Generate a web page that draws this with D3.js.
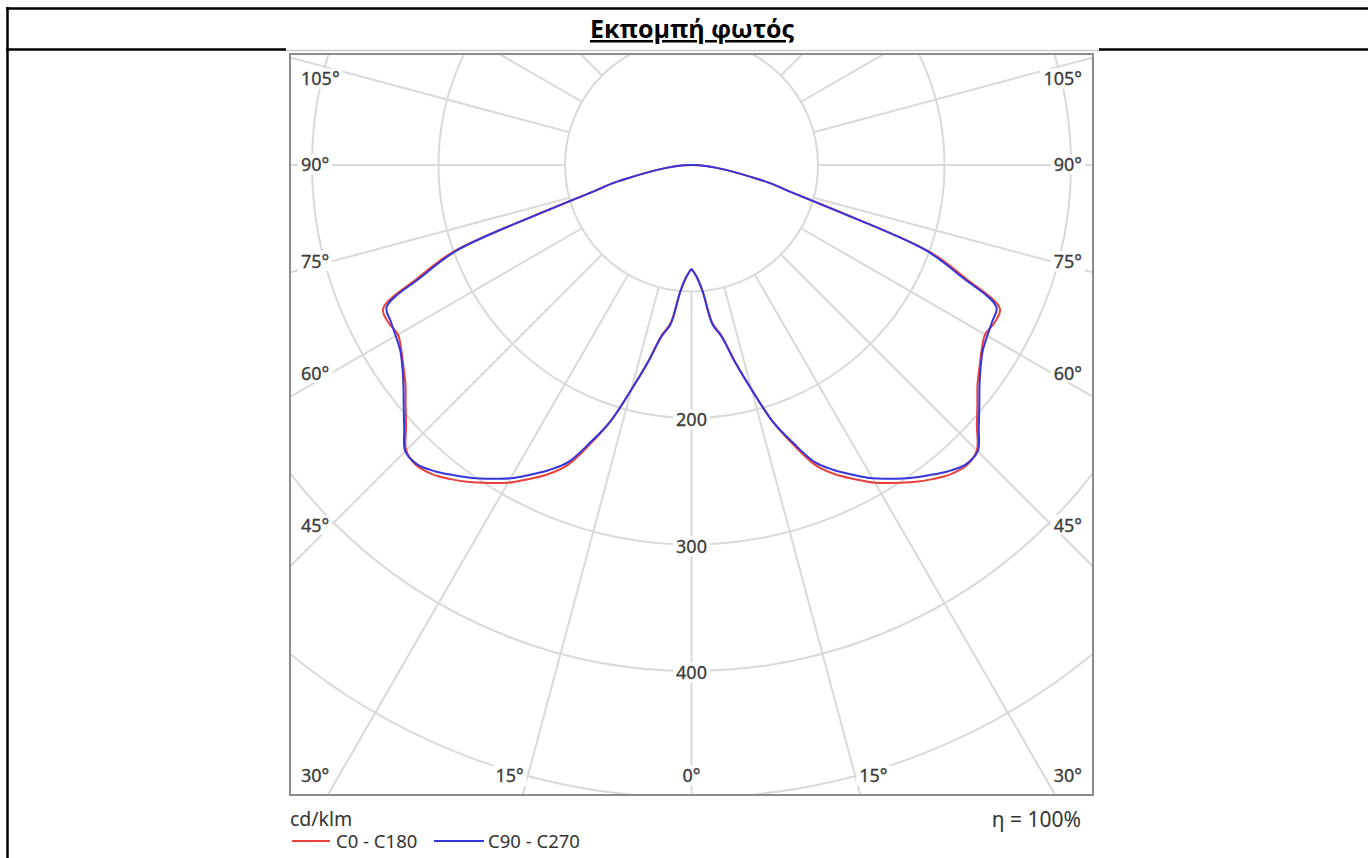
<!DOCTYPE html>
<html><head><meta charset="utf-8">
<script src="https://cdn.jsdelivr.net/npm/d3@7"></script>
<style>
html,body{margin:0;padding:0;background:#fff;}
svg{display:block;}
</style></head><body>
<script>
// ---------- data ----------
const titleText = "Εκπομπή φωτός";
const unitText = "cd/klm";
const efficiencyText = "η = 100%";
const seriesNames = ["C0 - C180", "C90 - C270"];
const seriesColors = ["#e8413c", "#3535de"];
const gammaDeg = [0,2.5,5,7.5,10,12.5,15,17.5,20,22.5,25,27.5,30,32.5,35,37.5,40,42.5,45,47.5,50,52.5,55,57.5,60,62.5,65,67.5,70,72.5,75,77.5,80];
const c0c180  = [82,88,100,126,137,160,184,212,235,257,270,280,290,298,306,313,319,322,319,306,295,285,278,272,268,270,269,235,200,121,79,59,0];
const c90c270 = [82,88,100,127,138,160,184,212,233,254,266,276,286,294,302,309,316,321,320,308,297,287,279,273,270,268,266,231,197,120,79,59,0];
const ringValues = [100,200,300,400,500,600];
const ringLabelValues = [200,300,400];
const radialAngles = [15,30,45,60,75,90,105,120,135,150,165,180];
const sideLabelAngles = [105,90,75,60,45,30];
const bottomLabelAngles = [15,0];

// ---------- layout ----------
const W = 1368, H = 858;
const frame = {x0: 290, y0: 54, x1: 1093, y1: 795};
const cx = 691.5, cy = 165;
const r = d3.scaleLinear().domain([0, 100]).range([0, 126.5]);
const labelFont = "'Noto Sans', 'DejaVu Sans', sans-serif";

const svg = d3.select("body").append("svg").attr("width", W).attr("height", H);

// outer table borders
svg.append("line").attr("x1", 6).attr("x2", W).attr("y1", 8.5).attr("y2", 8.5).attr("stroke", "#000").attr("stroke-width", 2.5);
svg.append("line").attr("x1", 7.5).attr("x2", 7.5).attr("y1", 7).attr("y2", H).attr("stroke", "#000").attr("stroke-width", 2.5);
svg.append("line").attr("x1", 6).attr("x2", 286).attr("y1", 49.5).attr("y2", 49.5).attr("stroke", "#000").attr("stroke-width", 2.5);
svg.append("line").attr("x1", 1099).attr("x2", W).attr("y1", 49.5).attr("y2", 49.5).attr("stroke", "#000").attr("stroke-width", 2.5);
// picture edge
svg.append("line").attr("x1", 286).attr("x2", 1099).attr("y1", 50.5).attr("y2", 50.5).attr("stroke", "#c9c9c9").attr("stroke-width", 1.5);

// title
svg.append("text").attr("x", 692).attr("y", 38)
  .attr("text-anchor", "middle").attr("font-family", "'Open Sans', 'Noto Sans', sans-serif")
  .attr("font-weight", "bold").attr("font-size", 25).attr("text-decoration", "underline")
  .attr("fill", "#000").text(titleText);

// clip
svg.append("clipPath").attr("id", "clipF").append("rect")
  .attr("x", frame.x0).attr("y", frame.y0).attr("width", frame.x1 - frame.x0).attr("height", frame.y1 - frame.y0);

const grid = svg.append("g").attr("clip-path", "url(#clipF)")
  .append("g").attr("transform", `translate(${cx},${cy})`);
grid.selectAll("circle.ring").data(ringValues).join("circle").attr("class", "ring")
  .attr("r", d => r(d)).attr("fill", "none").attr("stroke", "#d9d9d9").attr("stroke-width", 2);

const rad = d => d * Math.PI / 180;
const radials = [];
radialAngles.forEach(a => { radials.push(a); radials.push(-a); });
radials.push(0);
grid.selectAll("line.rad").data(radials).join("line").attr("class", "rad")
  .attr("x1", d => r(100) * Math.sin(rad(d))).attr("y1", d => r(100) * Math.cos(rad(d)))
  .attr("x2", d => r(700) * Math.sin(rad(d))).attr("y2", d => r(700) * Math.cos(rad(d)))
  .attr("stroke", "#d9d9d9").attr("stroke-width", 2);

// labels with white background
const labels = svg.append("g");
function addLabel(x, y, txt, anchor) {
  const g = labels.append("g");
  const t = g.append("text").attr("x", x).attr("y", y).attr("dy", "0.36em")
    .attr("text-anchor", anchor).attr("font-family", labelFont).attr("font-size", 18)
    .attr("fill", "#3a3a3a").attr("stroke", "#3a3a3a").attr("stroke-width", 0.3).text(txt);
  const b = t.node().getBBox();
  g.insert("rect", "text").attr("x", b.x - 3).attr("y", b.y + 2).attr("width", b.width + 6).attr("height", b.height - 4).attr("fill", "#fff");
}
ringLabelValues.forEach(v => addLabel(cx, cy + r(v) + 2, String(v), "middle"));

const colLeft = frame.x0 + 11, colRight = frame.x1 - 11;
const refDx = cx - (frame.x0 + 41);
const yMin = frame.y0 + 25, yMax = frame.y1 - 19;
sideLabelAngles.forEach(a => {
  let y = cy + refDx * Math.cos(rad(a)) / Math.sin(rad(a));
  y = Math.max(yMin, Math.min(yMax, y));
  addLabel(colLeft, y, a + "°", "start");
  addLabel(colRight, y, a + "°", "end");
});
bottomLabelAngles.forEach(a => {
  const dx = (yMax - cy) * Math.tan(rad(a));
  if (a === 0) { addLabel(cx, yMax, "0°", "middle"); return; }
  addLabel(cx - dx - 4, yMax, a + "°", "end");
  addLabel(cx + dx + 4, yMax, a + "°", "start");
});

// curves
function pts(values) {
  const right = gammaDeg.map((g, i) => ({a: Math.PI - rad(g), v: values[i]}));
  const left = gammaDeg.slice(0, -1).map((g, i) => ({a: Math.PI + rad(g), v: values[i]})).reverse();
  return right.concat(left);
}
const line = d3.lineRadial().angle(d => d.a).radius(d => r(d.v)).curve(d3.curveCatmullRom.alpha(0.5));
const curves = svg.append("g").attr("clip-path", "url(#clipF)")
  .append("g").attr("transform", `translate(${cx},${cy})`);
[c0c180, c90c270].forEach((vals, i) => {
  curves.append("path").attr("d", line(pts(vals))).attr("fill", "none")
    .attr("stroke", seriesColors[i]).attr("stroke-width", 2).attr("stroke-linejoin", "round");
});

// frame
svg.append("rect").attr("x", frame.x0).attr("y", frame.y0).attr("width", frame.x1 - frame.x0).attr("height", frame.y1 - frame.y0)
  .attr("fill", "none").attr("stroke", "#8c8c8c").attr("stroke-width", 2);

// footer
svg.append("text").attr("x", frame.x0).attr("y", 826).attr("font-family", labelFont).attr("font-size", 19.5)
  .attr("fill", "#333").text(unitText);
svg.append("text").attr("x", frame.x1 - 12).attr("y", 827).attr("text-anchor", "end").attr("font-family", labelFont).attr("font-size", 21)
  .attr("fill", "#333").text(efficiencyText);
const legY = 841;
const legX = [292, 434];
seriesNames.forEach((n, i) => {
  svg.append("line").attr("x1", legX[i]).attr("x2", legX[i] + (i === 0 ? 38 : 50)).attr("y1", legY).attr("y2", legY)
    .attr("stroke", seriesColors[i]).attr("stroke-width", 2);
  svg.append("text").attr("x", legX[i] + (i === 0 ? 44 : 54)).attr("y", legY).attr("dy", "0.36em")
    .attr("font-family", labelFont).attr("font-size", 18.5).attr("fill", "#333").text(n);
});
</script>
</body></html>
